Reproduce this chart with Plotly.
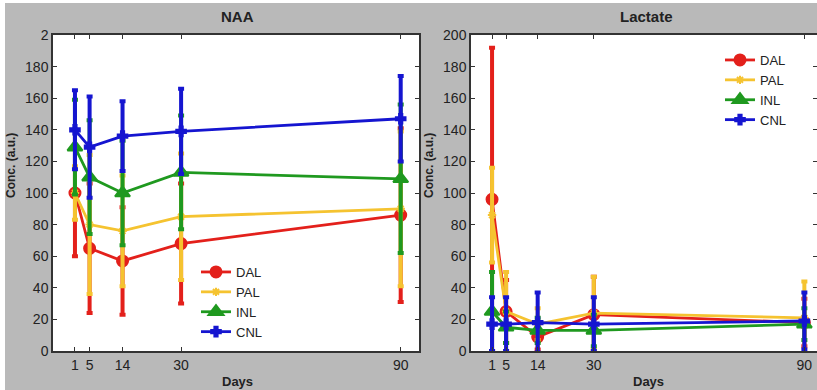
import plotly.graph_objects as go

days = [1, 5, 14, 30, 90]
groups = ["DAL", "PAL", "INL", "CNL"]
colors = {"DAL": "#e3201b", "PAL": "#f5c330", "INL": "#1f991f", "CNL": "#1515d0"}
symbols = {"DAL": "circle", "PAL": "asterisk-open", "INL": "triangle-up", "CNL": "cross"}
msizes = {"DAL": 11, "PAL": 7, "INL": 13, "CNL": 8}

naa_mean = {
    "DAL": [100, 65, 57, 68, 86],
    "PAL": [100, 80, 76, 85, 90],
    "INL": [129, 110, 100, 113, 109],
    "CNL": [140, 129, 136, 139, 147],
}
naa_err = {
    "DAL": [40, 41, 34, 38, 55],
    "PAL": [17, 44, 35, 40, 49],
    "INL": [30, 36, 33, 36, 47],
    "CNL": [25, 32, 22, 27, 27],
}
lac_mean = {
    "DAL": [96, 25, 9, 23, 18],
    "PAL": [86, 25, 17, 24, 21],
    "INL": [25, 15, 13, 13, 17],
    "CNL": [17, 17, 18, 17, 19],
}
lac_err = {
    "DAL": [96, 20, 8, 24, 15],
    "PAL": [30, 25, 10, 23, 23],
    "INL": [25, 10, 8, 10, 10],
    "CNL": [17, 17, 19, 17, 18],
}
y_ticks = [0, 20, 40, 60, 80, 100, 120, 140, 160, 180, 200]
left_tick_text = ["0", "20", "40", "60", "80", "100", "120", "140", "160", "180", "2"]
right_tick_text = [str(v) for v in y_ticks]

W, H = 817, 390
FONT = "Liberation Sans, Arial, sans-serif"

fig = go.Figure()


def add_panel(means, errs, xa, ya, legend):
    for g in groups:
        fig.add_trace(go.Scatter(
            x=days, y=means[g], name=g, mode="lines+markers",
            xaxis=xa, yaxis=ya, legend=legend,
            line=dict(color=colors[g], width=2.8),
            marker=dict(color=colors[g], symbol=symbols[g], size=msizes[g],
                        line=dict(color=colors[g], width=2)),
            error_y=dict(type="data", array=errs[g], visible=True,
                         color=colors[g], thickness=4, width=3),
        ))


add_panel(naa_mean, naa_err, "x", "y", "legend")
add_panel(lac_mean, lac_err, "x2", "y2", "legend2")

left_dom = [53 / W, 419 / W]
right_dom = [471 / W, 1.0]
ydom = [1 - 351 / H, 1 - 35 / H]

axis_common = dict(showline=True, linecolor="#333333", linewidth=1.5, mirror="ticks",
                   ticks="inside", ticklen=4, tickcolor="#333333", showgrid=False,
                   zeroline=False, tickfont=dict(family=FONT, size=14, color="#222222"))

fig.update_layout(
    width=W, height=H,
    margin=dict(l=0, r=0, t=0, b=0, autoexpand=False),
    paper_bgcolor="#b9b9b9", plot_bgcolor="white",
    font=dict(family=FONT, color="#222222"),
    xaxis=dict(domain=left_dom, anchor="y", range=[-5, 95], tickvals=days, **axis_common),
    yaxis=dict(domain=ydom, anchor="x", range=[0, 200], tickvals=y_ticks,
               ticktext=left_tick_text, **axis_common),
    xaxis2=dict(domain=right_dom, anchor="y2", range=[-5, 93.6], tickvals=days, **axis_common),
    yaxis2=dict(domain=ydom, anchor="x2", range=[0, 200], tickvals=y_ticks,
                ticktext=right_tick_text, **axis_common),
    legend=dict(x=196 / W, y=1 - 257 / H, xanchor="left", yanchor="top",
                bgcolor="rgba(0,0,0,0)", font=dict(family=FONT, size=13, color="#222222"),
                itemsizing="trace"),
    legend2=dict(x=720 / W, y=1 - 45 / H, xanchor="left", yanchor="top",
                 bgcolor="rgba(0,0,0,0)", font=dict(family=FONT, size=13, color="#222222"),
                 itemsizing="trace"),
    shapes=[
        dict(type="rect", xref="paper", yref="paper", x0=0, x1=5 / W, y0=0, y1=1,
             fillcolor="white", line=dict(width=0), layer="below"),
        dict(type="rect", xref="paper", yref="paper", x0=0, x1=1, y0=1 - 3 / H, y1=1,
             fillcolor="white", line=dict(width=0), layer="below"),
    ],
)

ann = []


def add_text(text, x, y, size, angle=0):
    ann.append(dict(text=text, x=x / W, y=1 - y / H, xref="paper", yref="paper",
                    showarrow=False, textangle=angle, xanchor="center", yanchor="middle",
                    font=dict(family=FONT, size=size, color="#222222")))


add_text("<b>NAA</b>", 237, 17, 15)
add_text("<b>Lactate</b>", 646, 17, 15)
add_text("<b>Days</b>", 237, 381, 13)
add_text("<b>Days</b>", 648, 381, 13)
add_text("<b>Conc. (a.u.)</b>", 11, 166, 12, -90)
add_text("<b>Conc. (a.u.)</b>", 429, 166, 12, -90)
fig.update_layout(annotations=ann)

fig.write_html(
    "out.html",
    config={"displayModeBar": False},
    post_script="document.body.style.margin='0px';document.body.style.overflow='hidden';",
)
